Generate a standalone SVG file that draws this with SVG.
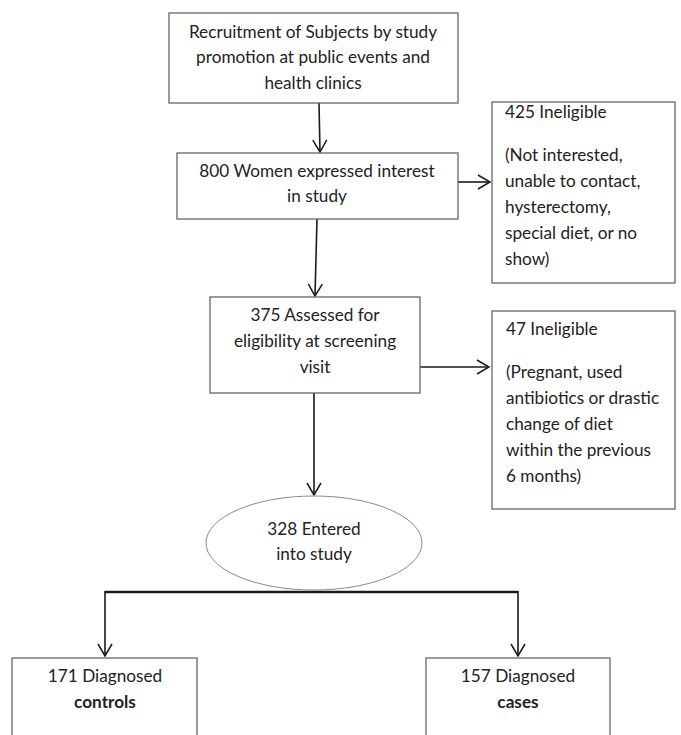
<svg xmlns="http://www.w3.org/2000/svg" width="681" height="735" viewBox="0 0 681 735">
<defs>
<marker id="arr" markerUnits="userSpaceOnUse" viewBox="-14 -9 16 18" refX="0" refY="0" markerWidth="16" markerHeight="18" orient="auto">
<path d="M-12,-7 L0,0 L-12,7" fill="none" stroke="#1a1a1a" stroke-width="1.5"/>
</marker>
<style>
.box{fill:#fff;stroke:#5a5a5a;stroke-width:1.2}
.ell{fill:#fff;stroke:#8a8a8a;stroke-width:1}
.t{font-family:Lato,"Liberation Sans",sans-serif;font-size:17.2px;fill:#222}
.c{text-anchor:middle}
.b{font-weight:bold}
.ln{fill:none;stroke:#1a1a1a;stroke-width:1.6}
</style>
</defs>
<rect width="681" height="735" fill="#fff"/>
<g id="connectors">
<path class="ln" d="M319,103 L320,152" marker-end="url(#arr)"/>
<path class="ln" d="M317,219 L315,296" marker-end="url(#arr)"/>
<path class="ln" d="M458,182 L490,182" marker-end="url(#arr)"/>
<path class="ln" d="M420,367 L489,367" marker-end="url(#arr)"/>
<path class="ln" d="M314,393 L314,495" marker-end="url(#arr)"/>
<path class="ln" d="M105,592 L518,592" style="stroke-width:2.4"/>
<path class="ln" d="M105,591 L105,656" marker-end="url(#arr)"/>
<path class="ln" d="M518,591 L518,656" marker-end="url(#arr)"/>
</g>
<g id="recruitment">
<rect class="box" x="169" y="13" width="289" height="90"/>
<text class="t c" x="313" y="38">Recruitment of Subjects by study</text>
<text class="t c" x="313" y="63">promotion at public events and</text>
<text class="t c" x="313" y="89">health clinics</text>
</g>
<g id="interest">
<rect class="box" x="177" y="153" width="281" height="66"/>
<text class="t c" x="317" y="177">800 Women expressed interest</text>
<text class="t c" x="317" y="202">in study</text>
</g>
<g id="ineligible425">
<rect class="box" x="492" y="102" width="183" height="181"/>
<text class="t" x="505" y="118">425 Ineligible</text>
<text class="t" x="505" y="161">(Not interested,</text>
<text class="t" x="505" y="187">unable to contact,</text>
<text class="t" x="505" y="213">hysterectomy,</text>
<text class="t" x="505" y="239">special diet, or no</text>
<text class="t" x="505" y="265">show)</text>
</g>
<g id="assessed">
<rect class="box" x="210" y="297" width="210" height="96"/>
<text class="t c" x="315" y="321">375 Assessed for</text>
<text class="t c" x="315" y="347">eligibility at screening</text>
<text class="t c" x="315" y="373">visit</text>
</g>
<g id="ineligible47">
<rect class="box" x="492" y="311" width="183" height="198"/>
<text class="t" x="506" y="335">47 Ineligible</text>
<text class="t" x="506" y="378">(Pregnant, used</text>
<text class="t" x="506" y="404">antibiotics or drastic</text>
<text class="t" x="506" y="430">change of diet</text>
<text class="t" x="506" y="456">within the previous</text>
<text class="t" x="506" y="482">6 months)</text>
</g>
<g id="entered">
<ellipse class="ell" cx="314" cy="543" rx="108" ry="47"/>
<text class="t c" x="314" y="535">328 Entered</text>
<text class="t c" x="314" y="560">into study</text>
</g>
<g id="controls">
<rect class="box" x="12" y="658" width="185" height="90"/>
<text class="t c" x="105" y="682">171 Diagnosed</text>
<text class="t c b" x="105" y="708">controls</text>
</g>
<g id="cases">
<rect class="box" x="426" y="658" width="184" height="90"/>
<text class="t c" x="518" y="682">157 Diagnosed</text>
<text class="t c b" x="518" y="708">cases</text>
</g>
</svg>
